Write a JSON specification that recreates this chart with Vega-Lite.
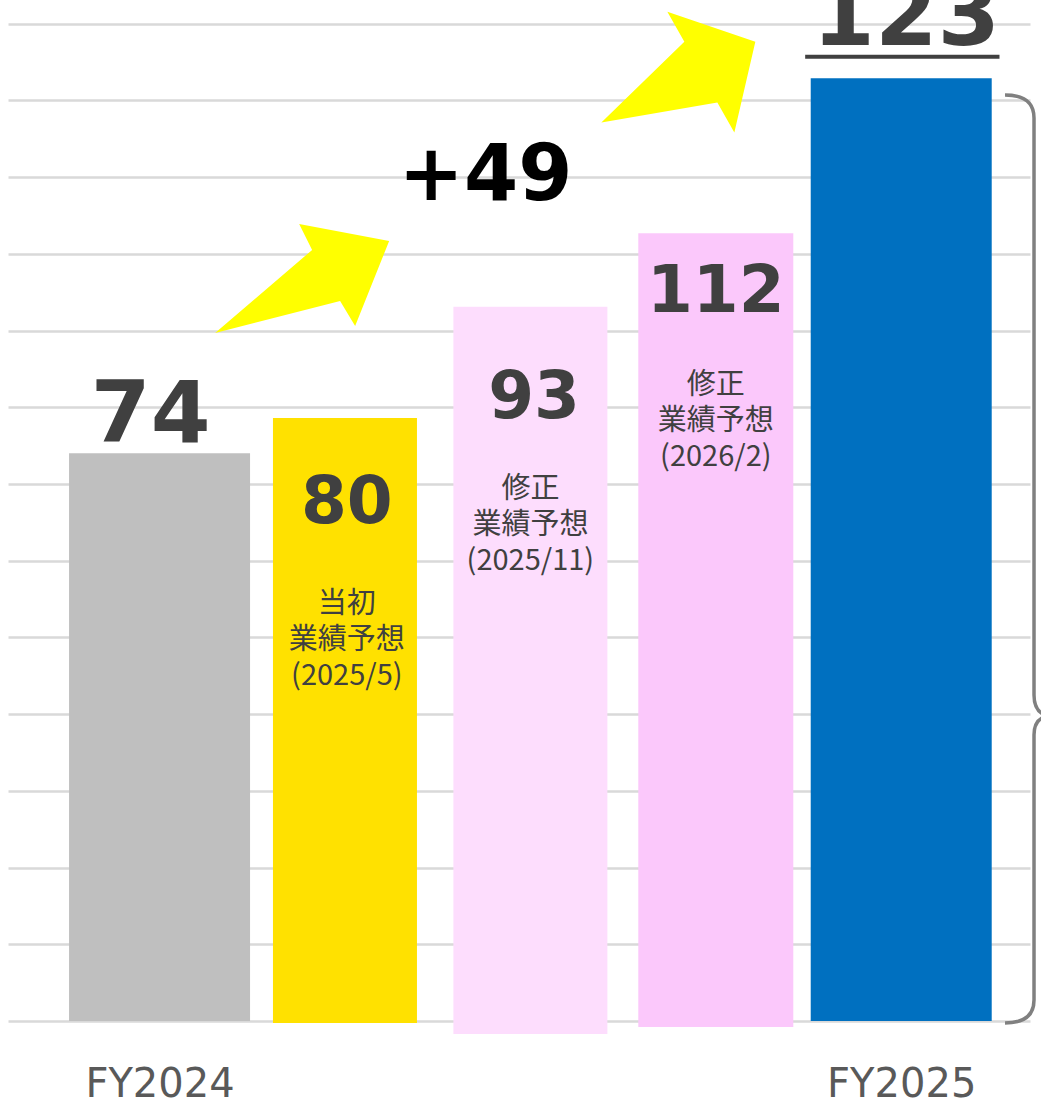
{
  "$schema": "https://vega.github.io/schema/vega-lite/v6.json",
  "width": 1022,
  "height": 1021,
  "autosize": {"type": "none"},
  "padding": {"top": 0, "left": 8, "right": 11, "bottom": 78},
  "background": "white",
  "config": {"view": {"stroke": null}},
  "datasets": {
    "bars": [
      {"x": 0, "y": 74, "base": 0, "name": "FY2024", "value": 74},
      {"x": 1, "y": 78.6, "base": -0.26, "name": "当初業績予想(2025/5)", "value": 80},
      {"x": 2, "y": 93.1, "base": -1.7, "name": "修正業績予想(2025/11)", "value": 93},
      {"x": 3, "y": 102.7, "base": -0.78, "name": "修正業績予想(2026/2)", "value": 112},
      {"x": 4, "y": 122.9, "base": 0, "name": "FY2025", "value": 123}
    ],
    "numbersBig": [
      {"x": -0.048, "y": 75.5, "t": "74"}
    ],
    "numbersMid": [
      {"x": 1.01, "y": 64.9, "t": "80"},
      {"x": 2.02, "y": 78.6, "t": "93"},
      {"x": 3.0, "y": 92.4, "t": "112"}
    ],
    "numbersTop": [
      {"x": 4.027, "y": 127.2, "t": "123"}
    ],
    "notes": [
      {"x": 1.01, "y": 54.37, "t": "当初\n業績予想\n(2025/5)"},
      {"x": 2.0, "y": 69.36, "t": "修正\n業績予想\n(2025/11)"},
      {"x": 3.0, "y": 82.92, "t": "修正\n業績予想\n(2026/2)"}
    ],
    "diff": [{"x": 1.758, "y": 107.0, "t": "+49"}],
    "arrow1": [{"x": 0.769, "y": 96.8}],
    "arrow2": [{"x": 2.798, "y": 123.7}],
    "brace": [{"x": 4.638, "y": 60.23}],
    "underline": [{"x": 3.482, "x2": 4.53, "y": 125.7}]
  },
  "encoding": {
    "x": {
      "field": "x", "type": "quantitative",
      "scale": {"domain": [-0.7904, 4.6676], "nice": false, "zero": false},
      "axis": {
        "values": [0, 4], "grid": false, "domain": false, "ticks": false,
        "labelExpr": "datum.value == 0 ? 'FY2024' : 'FY2025'",
        "labelFont": "DejaVu Sans", "labelFontSize": 40, "labelColor": "#595959",
        "labelPadding": 75, "labelBaseline": "alphabetic", "title": null
      }
    },
    "y": {
      "field": "y", "type": "quantitative",
      "scale": {"domain": [0, 133.1], "nice": false, "zero": false},
      "axis": {
        "values": [0, 10, 20, 30, 40, 50, 60, 70, 80, 90, 100, 110, 120, 130],
        "grid": true, "gridColor": "#D9D9D9", "gridWidth": 2.5,
        "labels": false, "ticks": false, "domain": false, "title": null
      }
    }
  },
  "layer": [
    {
      "data": {"name": "bars"},
      "mark": {"type": "bar"},
      "encoding": {
        "y2": {"field": "base"},
        "color": {
          "field": "name", "type": "nominal", "legend": null,
          "scale": {
            "domain": ["FY2024", "当初業績予想(2025/5)", "修正業績予想(2025/11)", "修正業績予想(2026/2)", "FY2025"],
            "range": ["#BFBFBF", "#FFE100", "#FDDDFD", "#FBC8FB", "#0070C0"]
          }
        },
        "size": {
          "field": "name", "type": "nominal", "legend": null,
          "scale": {
            "type": "ordinal",
            "domain": ["FY2024", "当初業績予想(2025/5)", "修正業績予想(2025/11)", "修正業績予想(2026/2)", "FY2025"],
            "range": [181, 144, 154, 155, 181]
          }
        }
      }
    },
    {
      "data": {"name": "numbersBig"},
      "mark": {"type": "text", "font": "DejaVu Sans", "fontWeight": "bold", "fontSize": 86, "color": "#404040", "align": "center", "baseline": "alphabetic"},
      "encoding": {"text": {"field": "t"}}
    },
    {
      "data": {"name": "numbersMid"},
      "mark": {"type": "text", "font": "DejaVu Sans", "fontWeight": "bold", "fontSize": 66, "color": "#404040", "align": "center", "baseline": "alphabetic"},
      "encoding": {"text": {"field": "t"}}
    },
    {
      "data": {"name": "numbersTop"},
      "mark": {"type": "text", "font": "DejaVu Sans", "fontWeight": "bold", "fontSize": 90, "color": "#404040", "align": "center", "baseline": "alphabetic"},
      "encoding": {"text": {"field": "t"}}
    },
    {
      "data": {"name": "notes"},
      "mark": {"type": "text", "font": "Noto Sans CJK JP", "fontSize": 29, "lineHeight": 36, "lineBreak": "\n", "color": "#404040", "align": "center", "baseline": "middle"},
      "encoding": {"text": {"field": "t"}}
    },
    {
      "data": {"name": "diff"},
      "mark": {"type": "text", "font": "DejaVu Sans", "fontWeight": "bold", "fontSize": 78, "color": "#000000", "align": "center", "baseline": "alphabetic"},
      "encoding": {"text": {"field": "t"}}
    },
    {
      "data": {"name": "arrow1"},
      "mark": {
        "type": "point", "filled": true, "color": "#FFFF00", "opacity": 1, "size": 32400,
        "shape": "M -0.967 0.606 L 0.111 -0.317 L -0.033 -0.606 L 0.967 -0.417 L 0.589 0.528 L 0.422 0.25 Z"
      }
    },
    {
      "data": {"name": "arrow2"},
      "mark": {
        "type": "point", "filled": true, "color": "#FFFF00", "opacity": 1, "size": 25600,
        "shape": "M -0.9625 0.631 L 0.075 -0.381 L -0.1375 -0.756 L 0.9625 -0.381 L 0.7 0.756 L 0.4875 0.381 Z"
      }
    },
    {
      "data": {"name": "brace"},
      "mark": {
        "type": "point", "filled": false, "stroke": "#808080", "strokeWidth": 3.5, "opacity": 1, "size": 861184,
        "shape": "M -0.03125 -1 Q 0.03125 -1 0.03125 -0.9504 L 0.03125 0.2931 Q 0.03125 0.3297 0.0593 0.3384 Q 0.03125 0.3448 0.03125 0.3793 L 0.03125 0.9504 Q 0.03125 1 -0.03125 1"
      }
    },
    {
      "data": {"name": "underline"},
      "mark": {"type": "rule", "color": "#404040", "strokeWidth": 4},
      "encoding": {"x2": {"field": "x2"}}
    }
  ]
}
